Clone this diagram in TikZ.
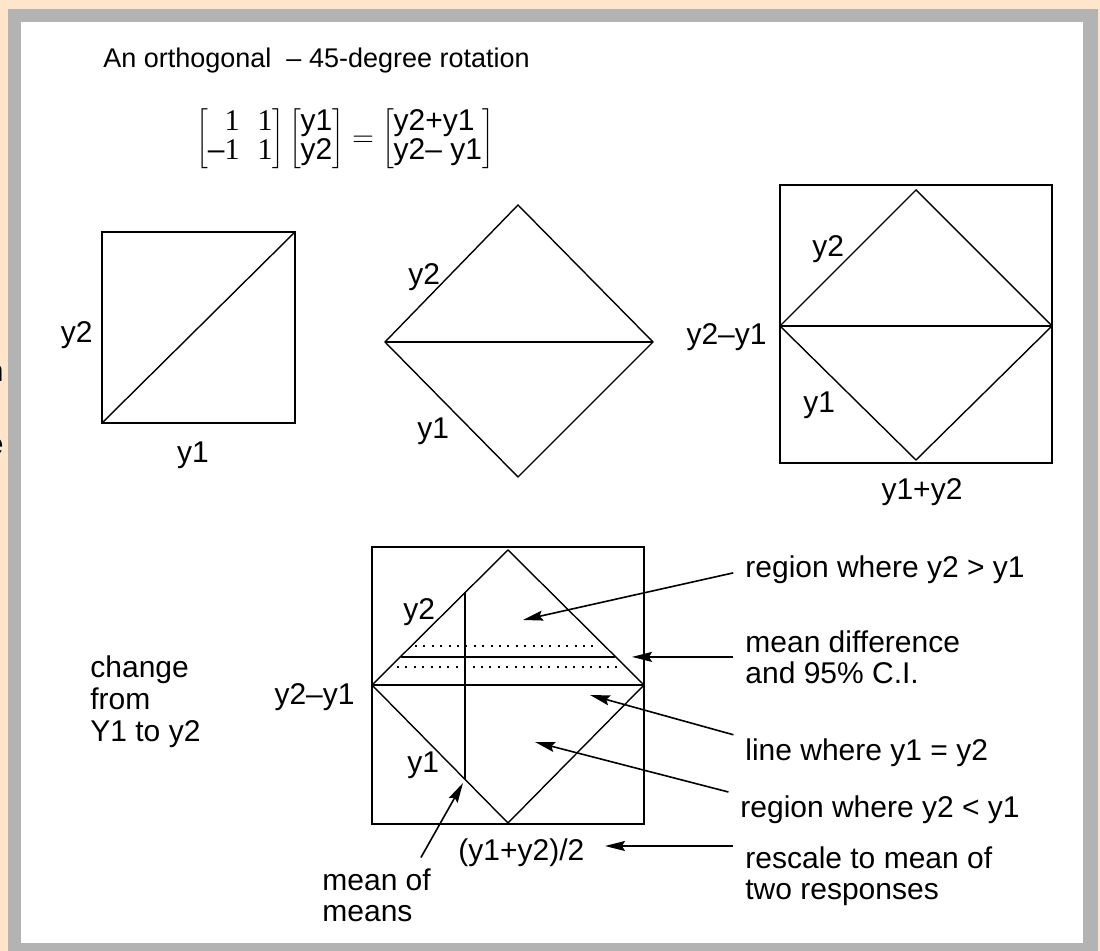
\documentclass[tikz,border=0pt]{standalone}
\usepackage{fontspec}
\setmainfont{Liberation Sans}
\newfontfamily\matfont{Liberation Serif}
\usetikzlibrary{arrows.meta}
\definecolor{peach}{RGB}{255,229,204}
\definecolor{rim}{RGB}{179,179,179}

\begin{document}
\begin{tikzpicture}[x=0.5pt,y=-0.5pt,box/.style={line width=1pt},edge/.style={line width=0.7pt},mid/.style={line width=1.1pt},ci/.style={line width=0.8pt,dash pattern=on 1pt off 3.2pt},pointer/.style={line width=0.8pt,-{Stealth[length=10pt,width=5pt,inset=1.5pt]},shorten <=6pt},lbl/.style={inner sep=0pt,font=\fontsize{15}{15.5}\selectfont},note/.style={lbl,align=left,anchor=north west}]
\useasboundingbox (0,0) rectangle (1100,951);
\fill[peach] (0,0) rectangle (1100,951);
\fill[rim] (8,9) rectangle (1098,951);
\fill[white] (21,22) rectangle (1083,943);
\coordinate (A1) at (102,423);
\coordinate (A2) at (295,232);
\coordinate (L2) at (385,342);
\coordinate (T2) at (518,205);
\coordinate (R2) at (653,342);
\coordinate (B2) at (518,477);
\coordinate (C1) at (780,463);
\coordinate (C2) at (1052,185);
\coordinate (L3) at (780,326);
\coordinate (T3) at (916,190);
\coordinate (R3) at (1052,326);
\coordinate (B3) at (916,460);
\coordinate (D1) at (372,824);
\coordinate (D2) at (644,547);
\coordinate (L4) at (372,685);
\coordinate (T4) at (508,550);
\coordinate (R4) at (644,685);
\coordinate (B4) at (508,823);
\coordinate (V1) at (465,592);
\coordinate (V2) at (465,779);
\coordinate (M1) at (401,657);
\coordinate (M2) at (615,657);
\coordinate (U1) at (415,646);
\coordinate (U2) at (598,646);
\coordinate (W1) at (397,667);
\coordinate (W2) at (619,667);
\coordinate (tipA) at (523,620);
\coordinate (tipB) at (632,659);
\coordinate (tipC) at (590,695);
\coordinate (tipD) at (535,742);
\coordinate (tipE) at (605,847);
\coordinate (tipF) at (463,783);
\draw[box] (A1) rectangle (A2);
\draw[edge] (A1) -- (A2);
\draw[edge] (L2) -- (T2) -- (R2) -- (B2) -- cycle;
\draw[mid] (L2) -- (R2);
\draw[box] (C1) rectangle (C2);
\draw[edge] (L3) -- (T3) -- (R3) -- (B3) -- cycle;
\draw[mid] (L3) -- (R3);
\draw[box] (D1) rectangle (D2);
\draw[edge] (L4) -- (T4) -- (R4) -- (B4) -- cycle;
\draw[mid] (L4) -- (R4);
\draw[mid] (V1) -- (V2);
\draw[mid] (M1) -- (M2);
\draw[ci] (U1) -- (U2);
\draw[ci] (W1) -- (W2);
\node[lbl,anchor=base east] (cut1) at (4,382) {n};
\node[lbl,anchor=base east] (cut2) at (3,414) {.};
\node[lbl,anchor=base east] (cut3) at (4,455) {e};
\node[lbl,anchor=base west,font=\fontsize{13.5}{16}\selectfont] (title) at (103,68) {An orthogonal\ \ – 45-degree rotation};
\node[lbl] (eqn) at (345,139) {\renewcommand\arraystretch{0.95}$\left[\begin{array}{@{}r@{\hspace{9pt}}r@{}}\mbox{\matfont 1}&\mbox{\matfont 1}\\\mbox{–\matfont 1}&\mbox{\matfont 1}\end{array}\right]\left[\begin{array}{@{}c@{}}\mbox{y1}\\\mbox{y2}\end{array}\right]=\left[\begin{array}{@{}l@{}}\mbox{y2+y1}\\\mbox{y2– y1}\end{array}\right]$};
\node[lbl,anchor=base east] (a2) at (93,343) {y2};
\node[lbl,anchor=base] (a1) at (193,463) {y1};
\node[lbl,anchor=base west] (b2) at (408,285) {y2};
\node[lbl,anchor=base west] (b1) at (417,439) {y1};
\node[lbl,anchor=base west] (c2) at (812,257) {y2};
\node[lbl,anchor=base east] (cd) at (767,345) {y2–y1};
\node[lbl,anchor=base west] (c1) at (803,413) {y1};
\node[lbl,anchor=base] (cs) at (922,500) {y1+y2};
\node[lbl,anchor=base west] (d2) at (403,620) {y2};
\node[lbl,anchor=base west] (d1) at (407,773) {y1};
\node[lbl,anchor=base east] (dd) at (355,705) {y2–y1};
\node[lbl,anchor=base west] (dm) at (458,861) {(y1+y2)/2};
\node[note,font=\fontsize{15}{16}\selectfont] (chg) at (90,655) {change\\from\\Y1 to y2};
\node[lbl,anchor=base west] (up) at (745,578) {region where y2 > y1};
\node[note] (dif) at (745,630) {mean difference\\and 95\% C.I.};
\node[lbl,anchor=north west] (eq) at (745,738) {line where y1 = y2};
\node[lbl,anchor=north west] (dn) at (740,795) {region where y2 < y1};
\node[note] (rsc) at (745,846) {rescale to mean of\\two responses};
\node[note] (mom) at (322,868) {mean of\\means};
\draw[pointer] (up.west) -- (tipA);
\draw[pointer] (dif.west) -- (dif.west -| tipB);
\draw[pointer] (eq.north west) -- (tipC);
\draw[pointer] (dn.north west) -- (tipD);
\draw[pointer] (rsc.north west) -- (rsc.north west -| tipE);
\draw[pointer] (mom.35) -- (tipF);
\end{tikzpicture}
\end{document}
